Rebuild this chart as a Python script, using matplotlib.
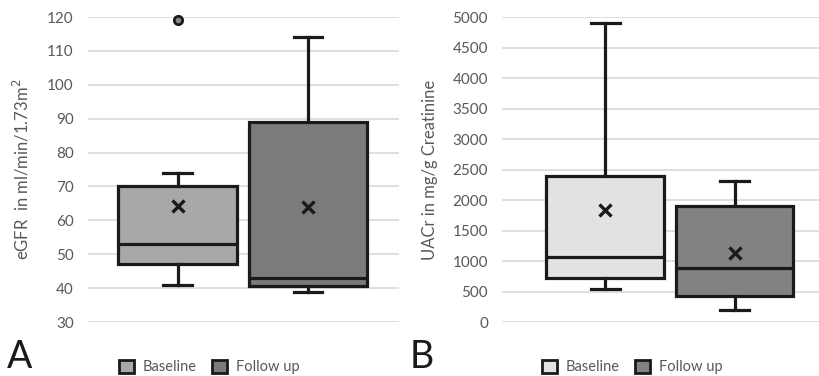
import matplotlib.pyplot as plt
from matplotlib.patches import Patch

plt.rcParams['font.family'] = ['Lato', 'DejaVu Sans']

groups = ["Baseline", "Follow up"]

# eGFR (panel A): whisker low, Q1, median, Q3, whisker high, mean
egfr_low = [41, 39]
egfr_q1 = [47, 40.5]
egfr_med = [53, 43]
egfr_q3 = [70, 89]
egfr_high = [74, 114]
egfr_mean = [64.2, 63.9]
egfr_fliers = [[119], []]

# UACr (panel B)
uacr_low = [540, 200]
uacr_q1 = [720, 420]
uacr_med = [1060, 880]
uacr_q3 = [2390, 1910]
uacr_high = [4900, 2320]
uacr_mean = [1830, 1130]
uacr_fliers = [[], []]

colA = ["#a8a8a8", "#7b7b7b"]
colB = ["#e2e2e2", "#828282"]
grey = "#595959"


def stats(low, q1, med, q3, high, mean, fl):
    out = []
    for i in range(len(low)):
        out.append(dict(whislo=low[i], q1=q1[i], med=med[i], q3=q3[i],
                        whishi=high[i], mean=mean[i], fliers=fl[i]))
    return out


def panel(ax, st, cols, ylim, yticks, ylabel, xlim, legx):
    lw = 2.3
    bp = ax.bxp(st, positions=[1, 2], widths=0.91, patch_artist=True,
                showmeans=True, showfliers=True,
                boxprops=dict(linewidth=lw, edgecolor="#1a1a1a"),
                medianprops=dict(color="#1a1a1a", linewidth=lw),
                whiskerprops=dict(color="#1a1a1a", linewidth=lw),
                capprops=dict(color="#1a1a1a", linewidth=lw),
                capwidths=0.22,
                meanprops=dict(marker="x", markeredgecolor="#1a1a1a",
                               markersize=9, markeredgewidth=2.4),
                flierprops=dict(marker="o", markerfacecolor="#888888",
                                markeredgecolor="#1a1a1a", markersize=6,
                                markeredgewidth=2))
    for p, c in zip(bp["boxes"], cols):
        p.set_facecolor(c)
    for f in bp["fliers"]:
        f.set_clip_on(False)
    ax.set_ylim(*ylim)
    ax.set_xlim(*xlim)
    ax.set_yticks(yticks)
    ax.set_xticks([])
    ax.grid(axis="y", color="#d9d9d9", linewidth=1.2)
    ax.set_axisbelow(True)
    for s in ax.spines.values():
        s.set_visible(False)
    ax.tick_params(axis="y", length=0, colors=grey, labelsize=11, pad=10)
    ax.set_ylabel(ylabel, color=grey, fontsize=12)
    handles = [Patch(facecolor=c, edgecolor="#1a1a1a", linewidth=2) for c in cols]
    ax.legend(handles, groups, loc="center", bbox_to_anchor=(legx, -0.148),
              ncol=2, frameon=False, fontsize=10.5, handlelength=1.0,
              handleheight=1.0, handletextpad=0.6, columnspacing=1.1,
              labelcolor=grey)


fig = plt.figure(figsize=(8.2, 3.76), dpi=100)
axA = fig.add_axes([0.107, 0.1436, 0.380, 0.811])
axB = fig.add_axes([0.612, 0.1436, 0.388, 0.811])

panel(axA, stats(egfr_low, egfr_q1, egfr_med, egfr_q3, egfr_high, egfr_mean, egfr_fliers),
      colA, (30, 120), range(30, 121, 10), "eGFR  in ml/min/1.73m$^2$", (0.31, 2.7), 0.39)
panel(axB, stats(uacr_low, uacr_q1, uacr_med, uacr_q3, uacr_high, uacr_mean, uacr_fliers),
      colB, (0, 5000), range(0, 5001, 500), "UACr in mg/g Creatinine", (0.2, 2.66), 0.41)

axA.yaxis.set_label_coords(-0.18, 0.5)
axB.yaxis.set_label_coords(-0.20, 0.5)

fig.text(0.008, 0.02, "A", fontsize=27, color="#1a1a1a")
fig.text(0.5, 0.02, "B", fontsize=27, color="#1a1a1a")

fig.savefig("out.png", dpi=100)
